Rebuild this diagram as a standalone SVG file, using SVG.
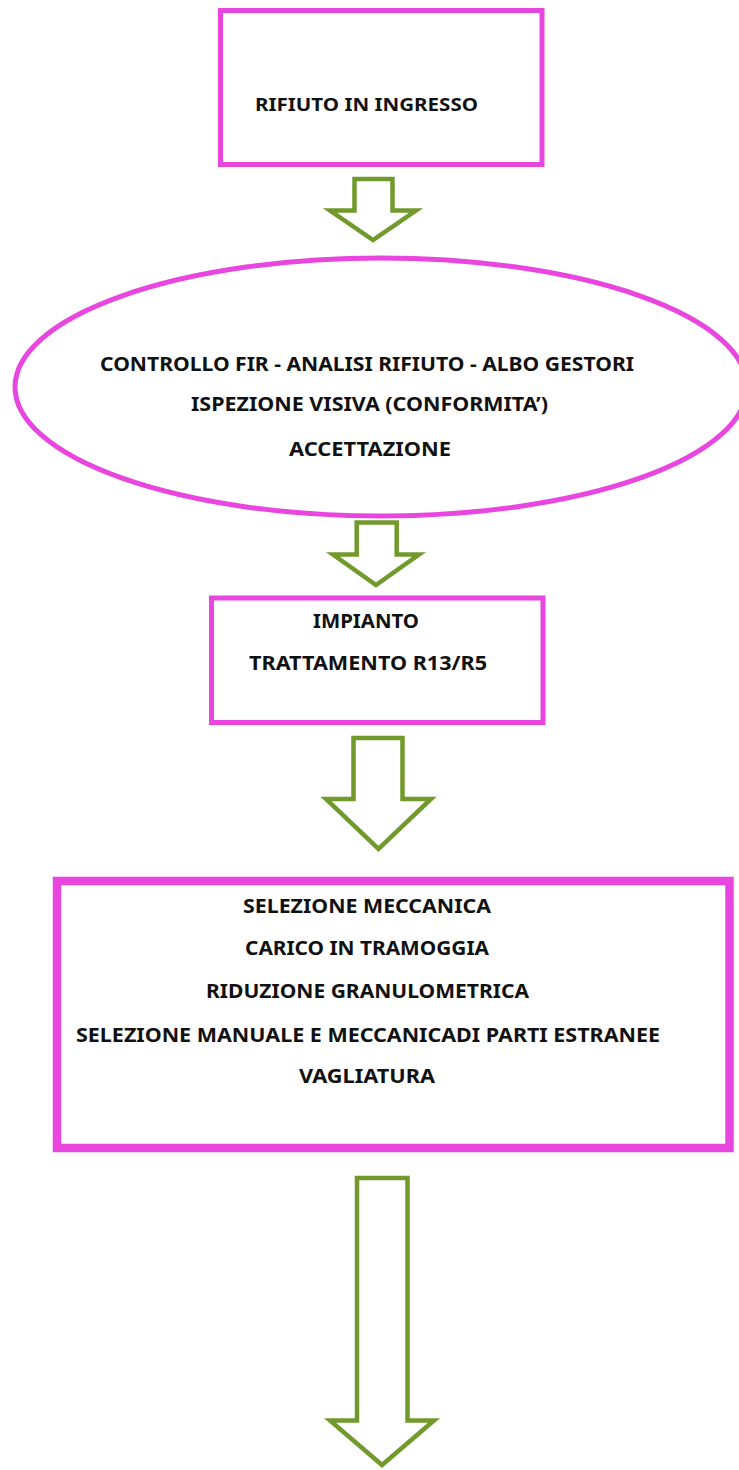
<svg xmlns="http://www.w3.org/2000/svg" width="739" height="1470" viewBox="0 0 739 1470">
<style>
.box{fill:#ffffff;stroke:#e846df;stroke-width:5}
.thick{stroke-width:8.5}
.arrow{fill:#ffffff;stroke:#71992b;stroke-width:4.5;stroke-linejoin:miter}
.t{font-family:"Noto Sans","Open Sans","DejaVu Sans",sans-serif;font-weight:700;fill:#111111}
</style>
<rect width="739" height="1470" fill="#ffffff"/>
<g id="n1">
<rect class="box" x="220.5" y="10.5" width="321.5" height="154"/>
<text class="t" x="255" y="111" font-size="18.5" textLength="223" lengthAdjust="spacingAndGlyphs">RIFIUTO IN INGRESSO</text>
</g>
<g id="n2">
<ellipse class="box" cx="381" cy="387" rx="366" ry="129"/>
<text class="t" x="100" y="371" font-size="19" textLength="534" lengthAdjust="spacingAndGlyphs">CONTROLLO FIR - ANALISI RIFIUTO - ALBO GESTORI</text>
<text class="t" x="191" y="411" font-size="19" textLength="357" lengthAdjust="spacingAndGlyphs">ISPEZIONE VISIVA (CONFORMITA’)</text>
<text class="t" x="289" y="456" font-size="19" textLength="162" lengthAdjust="spacingAndGlyphs">ACCETTAZIONE</text>
</g>
<g id="n3">
<rect class="box" x="211.5" y="598" width="331.5" height="124.5"/>
<text class="t" x="313" y="628" font-size="19" textLength="106" lengthAdjust="spacingAndGlyphs">IMPIANTO</text>
<text class="t" x="249" y="670" font-size="19" textLength="238" lengthAdjust="spacingAndGlyphs">TRATTAMENTO R13/R5</text>
</g>
<g id="n4">
<rect class="box thick" x="57" y="881" width="672.5" height="267"/>
<text class="t" x="243" y="913" font-size="19.5" textLength="248" lengthAdjust="spacingAndGlyphs">SELEZIONE MECCANICA</text>
<text class="t" x="245" y="955" font-size="19.5" textLength="244" lengthAdjust="spacingAndGlyphs">CARICO IN TRAMOGGIA</text>
<text class="t" x="206" y="998" font-size="19.5" textLength="323" lengthAdjust="spacingAndGlyphs">RIDUZIONE GRANULOMETRICA</text>
<text class="t" x="76" y="1042" font-size="19.5" textLength="584" lengthAdjust="spacingAndGlyphs">SELEZIONE MANUALE E MECCANICADI PARTI ESTRANEE</text>
<text class="t" x="299" y="1083" font-size="19.5" textLength="136" lengthAdjust="spacingAndGlyphs">VAGLIATURA</text>
</g>
<g id="connectors">
<path class="arrow" d="M354.5,179 H392.5 V210.5 H416 L373,240 L330,210.5 H354.5 Z"/>
<path class="arrow" d="M356.7,522.5 H396.7 V554.5 H419 L376,585 L333,554.5 H356.7 Z"/>
<path class="arrow" d="M353.5,738 H402.5 V799 H431 L378.5,849 L326,799 H353.5 Z"/>
<path class="arrow" d="M357,1178 H407.5 V1420.5 H434 L382,1465 L330,1420.5 H357 Z"/>
</g>
</svg>
